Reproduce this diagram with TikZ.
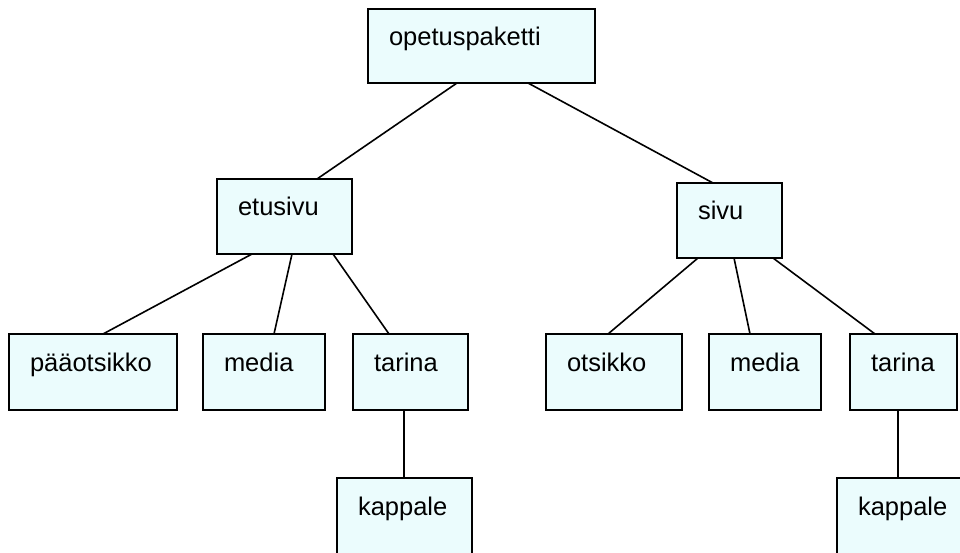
\documentclass[tikz,border=0pt]{standalone}
\usepackage{fontspec}
\setmainfont{Liberation Sans}
\usetikzlibrary{calc}
\definecolor{boxfill}{RGB}{235,252,253}
\begin{document}
\begin{tikzpicture}[x=1pt,y=-1pt,
  box/.style={draw=black, fill=boxfill, line width=1.6pt, anchor=north west,
    outer sep=0pt, inner xsep=21pt, inner ysep=0pt, text height=37pt,
    align=flush left, font=\fontsize{25.5}{30}\selectfont},
  link/.style={line width=1.6pt}]
\useasboundingbox (0,0) rectangle (960,553);
\clip (0,0) rectangle (960,553);

% top level
\node[box, text width=185pt, text depth=37pt] (op) at (368,9) {opetuspaketti};

% second level
\node[box, text width=93pt, text depth=38pt] (etu) at (217,179) {etusivu};
\node[box, text width=63pt, text depth=38pt] (sivu) at (677,183) {sivu};

% third level, under etusivu
\node[box, text width=126pt, text depth=39pt] (paaots) at (9,334) {pääotsikko};
\node[box, text width=80pt, text depth=39pt] (mediaL) at (203,334) {media};
\node[box, text width=73pt, text depth=39pt] (tarinaL) at (353,334) {tarina};

% third level, under sivu
\node[box, text width=94pt, text depth=39pt] (otsikko) at (546,334) {otsikko};
\node[box, text width=70pt, text depth=39pt] (mediaR) at (709,334) {media};
\node[box, text width=65pt, text depth=39pt] (tarinaR) at (850,334) {tarina};

% fourth level
\node[box, text width=93pt, text depth=53pt] (kapL) at (337,478) {kappale};
\node[box, text width=98pt, text depth=53pt] (kapR) at (837,478) {kappale};

% connectors
\draw[link] ($(op.south west)+(89,0)$) -- ($(etu.north west)+(100,0)$);
\draw[link] ($(op.south west)+(160,0)$) -- ($(sivu.north west)+(36,0)$);

\draw[link] ($(etu.south west)+(35,0)$) -- ($(paaots.north west)+(94,0)$);
\draw[link] ($(etu.south west)+(75,0)$) -- ($(mediaL.north west)+(71,0)$);
\draw[link] ($(etu.south west)+(116,0)$) -- ($(tarinaL.north west)+(36,0)$);

\draw[link] ($(sivu.south west)+(21,0)$) -- ($(otsikko.north west)+(62,0)$);
\draw[link] ($(sivu.south west)+(57,0)$) -- ($(mediaR.north west)+(41,0)$);
\draw[link] ($(sivu.south west)+(96,0)$) -- ($(tarinaR.north west)+(25,0)$);

\draw[link] ($(tarinaL.south west)+(51,0)$) -- ($(kapL.north west)+(67,0)$);
\draw[link] ($(tarinaR.south west)+(48,0)$) -- ($(kapR.north west)+(61,0)$);
\end{tikzpicture}
\end{document}
